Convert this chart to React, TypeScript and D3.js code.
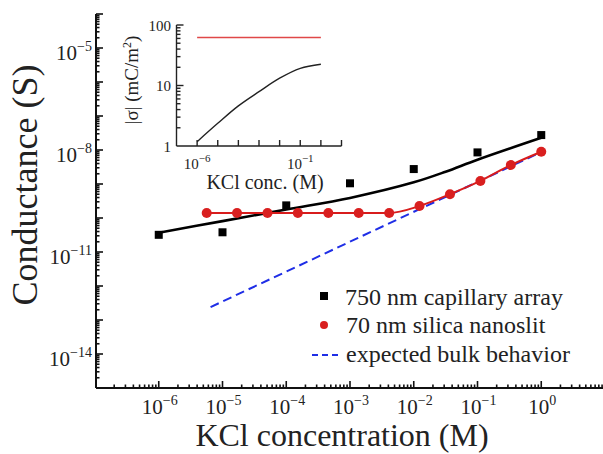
import { useEffect, useRef } from 'react';
import * as d3 from 'd3';

// main panel: conductance vs KCl concentration
const capillaryConc = [1e-6, 1e-5, 1e-4, 1e-3, 1e-2, 1e-1, 1];
const capillaryG = [3.2e-11, 3.8e-11, 2.35e-10, 1.05e-9, 2.75e-9, 8.5e-9, 2.75e-8];

const capModelConc = [1e-6, 1e-5, 1e-4, 1e-3, 1e-2, 3.16e-2, 1e-1, 1];
const capModelG = [3.7e-11, 8.1e-11, 1.78e-10, 3.9e-10, 1.12e-9, 2.3e-9, 5.2e-9, 2.3e-8];

const slitConc = [5.65e-6, 1.69e-5, 5.08e-5, 1.52e-4, 4.57e-4, 1.37e-3, 4.12e-3, 1.23e-2, 3.7e-2, 1.11e-1, 3.33e-1, 1];
const slitG = [1.4e-10, 1.4e-10, 1.4e-10, 1.4e-10, 1.4e-10, 1.4e-10, 1.4e-10, 2.25e-10, 5e-10, 1.23e-9, 3.6e-9, 8.9e-9];

const bulkConc = [6.5e-6, 1];
const bulkG = [2.4e-13, 8.7e-9];

const xTickExps = [-6, -5, -4, -3, -2, -1, 0];
const yTickExps = [-5, -8, -11, -14];

// inset: surface charge vs concentration
const insetConc = [1e-6, 1e-5, 1e-4, 1e-3, 1e-2, 1e-1, 1];
const insetSigma = [1.18, 2.37, 4.6, 7.9, 13.2, 19.2, 22.4];
const insetSilicaConc = [1e-6, 1];
const insetSilicaSigma = [62, 62];
const insetXTickExps = [-6, -1];
const insetYTicks = [1, 10, 100];

const FONT = '"Liberation Serif", "Times New Roman", serif';

const App = () => {
  const svgRef = useRef<SVGSVGElement>(null);

  useEffect(() => {
    const svg = d3.select(svgRef.current);
    svg.selectAll('*').remove();

    const x = d3.scaleLog().domain([1e-7, 1e1]).range([95, 605]);
    const y = d3.scaleLog().domain([1e-15, 1e-4]).range([388, 14]);

    const axisX0 = 96;
    const axisY0 = 388;

    const decades = (lo: number, hi: number) => d3.range(lo, hi + 1);

    const addText = (parent: any, size: number) =>
      parent.append('text')
        .style('font-family', FONT)
        .attr('font-size', size)
        .attr('fill', '#222');

    // ---- main axes
    const ax = svg.append('g').attr('stroke', '#111').attr('stroke-width', 1.6);
    ax.append('line').attr('x1', axisX0).attr('x2', 603).attr('y1', axisY0).attr('y2', axisY0).attr('stroke-width', 2);
    ax.append('line').attr('x1', axisX0).attr('x2', axisX0).attr('y1', y(1e-4)).attr('y2', axisY0).attr('stroke-width', 2);

    decades(-7, 1).forEach(e => {
      d3.range(1, 10).forEach(m => {
        const px = x(m * Math.pow(10, e));
        if (px <= axisX0 + 0.5 || px > 603) return;
        ax.append('line')
          .attr('x1', px).attr('x2', px)
          .attr('y1', axisY0).attr('y2', axisY0 - (m === 1 ? 7 : 3.5));
      });
    });
    decades(-15, -4).forEach(e => {
      d3.range(1, 10).forEach(m => {
        const v = m * Math.pow(10, e);
        if (v > 1e-4 * 1.0001) return;
        const py = y(v);
        if (py >= axisY0 - 0.5) return;
        ax.append('line')
          .attr('x1', axisX0).attr('x2', axisX0 + (m === 1 ? 7 : 3.5))
          .attr('y1', py).attr('y2', py);
      });
    });

    // tick labels
    xTickExps.forEach(e => {
      const t = addText(svg, 21)
        .attr('x', x(Math.pow(10, e)) + 1)
        .attr('y', 414)
        .attr('text-anchor', 'middle');
      t.append('tspan').text('10');
      t.append('tspan').attr('dy', -9).attr('font-size', 14).text(`${e < 0 ? '\u2212' : ''}${Math.abs(e)}`);
    });
    yTickExps.forEach(e => {
      const t = addText(svg, 21)
        .attr('x', 92)
        .attr('y', y(Math.pow(10, e)) + 12)
        .attr('text-anchor', 'end');
      t.append('tspan').text('10');
      t.append('tspan').attr('dy', -9).attr('font-size', 14).text(`\u2212${Math.abs(e)}`);
    });

    // axis titles
    addText(svg, 32)
      .attr('x', 342)
      .attr('y', 446)
      .attr('text-anchor', 'middle')
      .text('KCl concentration (M)');
    addText(svg, 36)
      .attr('transform', 'translate(37,185) rotate(-90)')
      .attr('text-anchor', 'middle')
      .text('Conductance (S)');

    // ---- data
    const smooth = d3.line<[number, number]>()
      .x(d => x(d[0]))
      .y(d => y(d[1]))
      .curve(d3.curveCatmullRom.alpha(0.5));
    const mono = d3.line<[number, number]>()
      .x(d => x(d[0]))
      .y(d => y(d[1]))
      .curve(d3.curveMonotoneX);

    svg.append('path')
      .datum(bulkConc.map((c, i) => [c, bulkG[i]] as [number, number]))
      .attr('d', d3.line<[number, number]>().x(d => x(d[0])).y(d => y(d[1])))
      .attr('fill', 'none')
      .attr('stroke', '#1f2ee6')
      .attr('stroke-width', 2)
      .attr('stroke-dasharray', '9,5');

    svg.append('path')
      .datum(capModelConc.map((c, i) => [c, capModelG[i]] as [number, number]))
      .attr('d', smooth)
      .attr('fill', 'none')
      .attr('stroke', '#000')
      .attr('stroke-width', 2.6);

    svg.append('path')
      .datum(slitConc.map((c, i) => [c, slitG[i]] as [number, number]))
      .attr('d', mono)
      .attr('fill', 'none')
      .attr('stroke', '#d81c1c')
      .attr('stroke-width', 2);

    const sq = 8;
    capillaryConc.forEach((c, i) => {
      svg.append('rect')
        .attr('x', x(c) - sq / 2)
        .attr('y', y(capillaryG[i]) - sq / 2)
        .attr('width', sq)
        .attr('height', sq)
        .attr('fill', '#000');
    });

    slitConc.forEach((c, i) => {
      svg.append('circle')
        .attr('cx', x(c))
        .attr('cy', y(slitG[i]))
        .attr('r', 5)
        .attr('fill', '#d91f1f');
    });

    // ---- legend
    const legend = svg.append('g');
    legend.append('rect').attr('x', 320).attr('y', 292).attr('width', 8).attr('height', 8).attr('fill', '#000');
    addText(legend, 24).attr('x', 345).attr('y', 305).text('750 nm capillary array');
    legend.append('circle').attr('cx', 324).attr('cy', 325).attr('r', 4).attr('fill', '#d91f1f');
    addText(legend, 24).attr('x', 346).attr('y', 333).text('70 nm silica nanoslit');
    legend.append('line')
      .attr('x1', 312).attr('x2', 339).attr('y1', 355).attr('y2', 355)
      .attr('stroke', '#1f2ee6').attr('stroke-width', 1.8).attr('stroke-dasharray', '6,4');
    addText(legend, 24).attr('x', 346).attr('y', 362).text('expected bulk behavior');

    // ---- inset
    const ix = d3.scaleLog().domain([1e-7, 1e1]).range([176.5, 341.5]);
    const iy = d3.scaleLog().domain([1, 100]).range([146, 25]);
    const inset = svg.append('g');
    const iax = inset.append('g').attr('stroke', '#222').attr('stroke-width', 1.4);
    iax.append('line').attr('x1', ix(1e-7)).attr('x2', ix(1e1)).attr('y1', iy(1)).attr('y2', iy(1));
    iax.append('line').attr('x1', ix(1e-7)).attr('x2', ix(1e-7)).attr('y1', iy(1)).attr('y2', iy(100));
    decades(-6, 1).forEach(e => {
      const px = ix(Math.pow(10, e));
      iax.append('line').attr('x1', px).attr('x2', px).attr('y1', iy(1)).attr('y2', iy(1) - 6);
    });
    decades(0, 2).forEach(e => {
      d3.range(1, 10).forEach(m => {
        const v = m * Math.pow(10, e);
        if (v > 100 || v === 1) return;
        iax.append('line')
          .attr('x1', ix(1e-7)).attr('x2', ix(1e-7) + (m === 1 ? 7 : 4))
          .attr('y1', iy(v)).attr('y2', iy(v));
      });
    });

    insetYTicks.forEach(v => {
      addText(inset, 15)
        .attr('x', 171)
        .attr('y', iy(v) + 5.5)
        .attr('text-anchor', 'end')
        .text(String(v));
    });
    insetXTickExps.forEach(e => {
      const t = addText(inset, 15)
        .attr('x', ix(Math.pow(10, e)))
        .attr('y', 169)
        .attr('text-anchor', 'middle');
      t.append('tspan').text('10');
      t.append('tspan').attr('dy', -7).attr('font-size', 11).text(`\u2212${Math.abs(e)}`);
    });
    addText(inset, 20)
      .attr('x', 265)
      .attr('y', 189)
      .attr('text-anchor', 'middle')
      .text('KCl conc. (M)');
    const ylab = addText(inset, 19)
      .attr('transform', 'translate(138,80) rotate(-90)')
      .attr('text-anchor', 'middle');
    ylab.append('tspan').text('|\u03c3| (mC/m');
    ylab.append('tspan').attr('dy', -7).attr('font-size', 12).text('2');
    ylab.append('tspan').attr('dy', 7).text(')');

    const iline = d3.line<[number, number]>()
      .x(d => ix(d[0]))
      .y(d => iy(d[1]))
      .curve(d3.curveCatmullRom.alpha(0.5));
    inset.append('path')
      .datum(insetSilicaConc.map((c, i) => [c, insetSilicaSigma[i]] as [number, number]))
      .attr('d', iline)
      .attr('fill', 'none')
      .attr('stroke', '#e04848')
      .attr('stroke-width', 1.5);
    inset.append('path')
      .datum(insetConc.map((c, i) => [c, insetSigma[i]] as [number, number]))
      .attr('d', iline)
      .attr('fill', 'none')
      .attr('stroke', '#222')
      .attr('stroke-width', 1.4);
  }, []);

  return (
    <svg
      ref={svgRef}
      width={603}
      height={454}
      style={{ position: 'absolute', left: 0, top: 0, background: '#fff' }}
    />
  );
};

export default App;
